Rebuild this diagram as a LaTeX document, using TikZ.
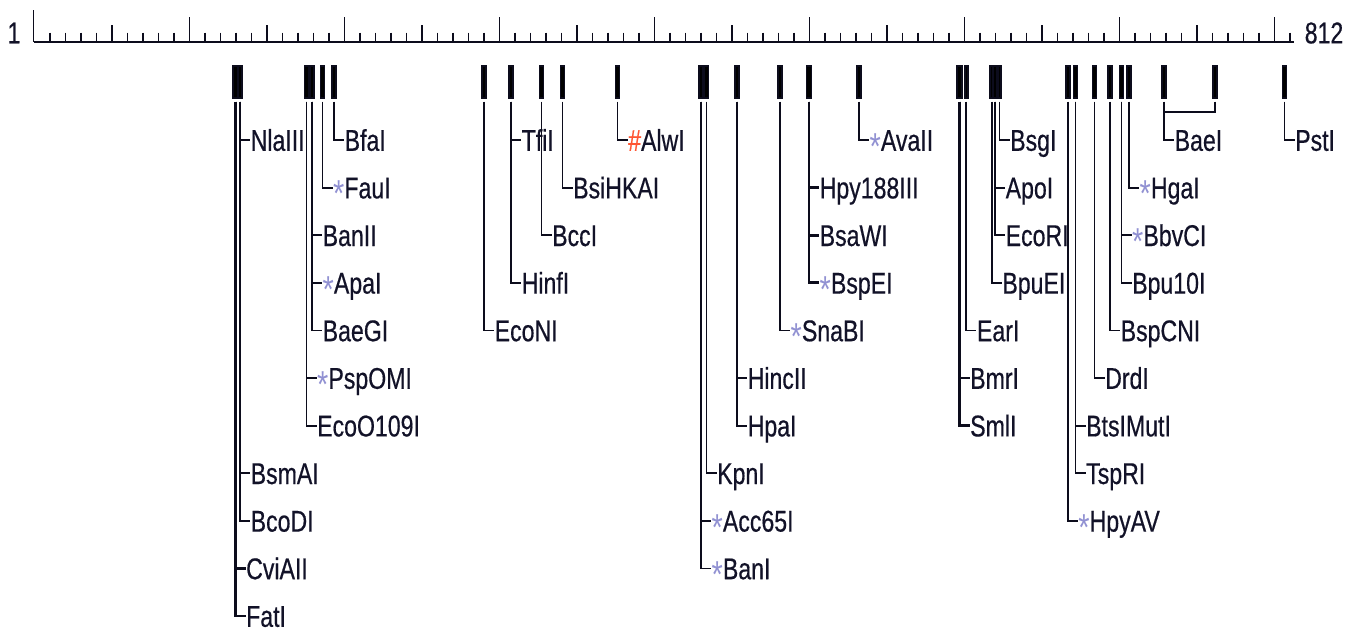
\documentclass[tikz,border=0pt]{standalone}
\usepackage{graphicx}
\usepackage{fontspec}
\setmainfont{Liberation Sans}[FakeStretch=0.77,FakeBold=0.5]
\newfontfamily\markfont{Liberation Sans}[FakeStretch=0.77]
\definecolor{ink}{RGB}{18,18,40}
\definecolor{wire}{RGB}{12,12,28}
\definecolor{starc}{RGB}{145,145,210}
\definecolor{hashc}{RGB}{255,85,50}
% markers in front of enzyme names
\newcommand{\cutstar}{{\markfont\color{starc}\raisebox{-0.28em}{\scalebox{1.25}{*}}}}
\newcommand{\cuthash}{{\color{hashc}\#}}
\tikzset{
  wire/.style={draw=wire, line width=1.8pt},
  heavy/.style={line width=2.7pt},
  tickline/.style={draw=wire, line width=1.3pt},
  lab/.style={anchor=west, inner xsep=0.5pt, inner ysep=0pt,
    text height=21.6pt, text depth=0pt, text=ink,
    font=\fontsize{30}{30}\selectfont},
  num/.style={inner sep=0pt, text=ink, font=\fontsize{30}{30}\selectfont},
}
% a cut site: its bar and the top of its leader line
\newcommand{\cutsite}[3]{%
  \fill[wire] (#2-#3/2,66) rectangle (#2+#3/2,98);
  \coordinate (#1) at (#2,101.5);}
% an enzyme label hung from a cut site on a given row
\newcommand{\enzyme}[5][]{%
  \node[lab,xshift=10pt] (#4) at (#2 |- #3) {#5};
  \draw[wire,#1] (#2) |- (#4.west);}
\begin{document}
\begin{tikzpicture}[x=1pt,y=-1pt]
\useasboundingbox (0,0) rectangle (1349,632);

% ruler
\coordinate (rbeg) at (33.5,41.5);
\coordinate (rend) at (1294,41.5);
\draw[wire, line width=2pt] (rbeg) -- (rend);
\draw[tickline] (33.5,10) -- (rbeg);
\foreach \b in {10,20,...,810}
  \draw[tickline] (34.6+1.55*\b,32.5) -- (34.6+1.55*\b,41.5);
\foreach \b in {50,150,...,750}
  \draw[tickline] (34.6+1.55*\b,25) -- (34.6+1.55*\b,41.5);
\foreach \b in {100,200,...,800}
  \draw[tickline] (34.6+1.55*\b,17) -- (34.6+1.55*\b,41.5);
\node[num] (first) at (14,33) {1};
\node[num] (last) at (1324,33) {812};

% label rows
\foreach \k in {1,...,11}
  \coordinate (r\k) at (0,140+47.6*\k-47.6);

% cut sites
\cutsite{sA2}{235.5}{5}
\cutsite{sA1}{240}{4.5}
\cutsite{sB1}{306.5}{4}
\cutsite{sB2}{312}{4}
\cutsite{sB3}{322.5}{4}
\cutsite{sB4}{334}{4}
\cutsite{sC1}{484}{4}
\cutsite{sC2}{511}{4}
\cutsite{sC3}{541.5}{4}
\cutsite{sC4}{562.5}{4}
\cutsite{sC5}{617.5}{4}
\cutsite{sC6}{701}{4}
\cutsite{sC7}{706.5}{4}
\cutsite{sC8}{737}{4}
\cutsite{sC9}{780}{4}
\cutsite{sC10}{809}{5}
\cutsite{sC11}{859}{4}
\cutsite{sD1}{959.5}{5.5}
\cutsite{sD2}{966.3}{3}
\cutsite{sD3}{991.7}{4}
\cutsite{sD4}{995}{4}
\cutsite{sD5}{999.5}{3}
\cutsite{sD6}{1067.7}{4}
\cutsite{sD7}{1075.5}{4}
\cutsite{sD8}{1094.5}{4}
\cutsite{sD9}{1110}{4}
\cutsite{sD10}{1121.5}{4}
\cutsite{sD11}{1129}{4}
\cutsite{sD12}{1164}{4}
\cutsite{sD13}{1215}{4}
\cutsite{sD14}{1284.5}{4}

% enzyme labels
\enzyme{sA1}{r1}{NlaIII}{NlaIII}
\enzyme{sA1}{r8}{BsmAI}{BsmAI}
\enzyme{sA1}{r9}{BcoDI}{BcoDI}
\enzyme[heavy]{sA2}{r10}{CviAII}{CviAII}
\enzyme[heavy]{sA2}{r11}{FatI}{FatI}

\enzyme{sB4}{r1}{BfaI}{BfaI}
\enzyme{sB3}{r2}{FauI}{\cutstar FauI}
\enzyme{sB2}{r3}{BanII}{BanII}
\enzyme{sB2}{r4}{ApaI}{\cutstar ApaI}
\enzyme{sB2}{r5}{BaeGI}{BaeGI}
\enzyme{sB1}{r6}{PspOMI}{\cutstar PspOMI}
\enzyme{sB1}{r7}{EcoOI}{EcoO109I}

\enzyme{sC2}{r1}{TfiI}{TfiI}
\enzyme{sC2}{r4}{HinfI}{HinfI}
\enzyme{sC4}{r2}{BsiHKAI}{BsiHKAI}
\enzyme{sC3}{r3}{BccI}{BccI}
\enzyme{sC1}{r5}{EcoNI}{EcoNI}
\enzyme{sC5}{r1}{AlwI}{\cuthash AlwI}
\enzyme{sC11}{r1}{AvaII}{\cutstar AvaII}
\enzyme[heavy]{sC10}{r2}{HpyIII}{Hpy188III}
\enzyme[heavy]{sC10}{r3}{BsaWI}{BsaWI}
\enzyme[heavy]{sC10}{r4}{BspEI}{\cutstar BspEI}
\enzyme{sC9}{r5}{SnaBI}{\cutstar SnaBI}
\enzyme{sC8}{r6}{HincII}{HincII}
\enzyme{sC8}{r7}{HpaI}{HpaI}
\enzyme{sC7}{r8}{KpnI}{KpnI}
\enzyme{sC6}{r9}{AccI}{\cutstar Acc65I}
\enzyme{sC6}{r10}{BanI}{\cutstar BanI}

\enzyme{sD5}{r1}{BsgI}{BsgI}
\enzyme{sD4}{r2}{ApoI}{ApoI}
\enzyme{sD4}{r3}{EcoRI}{EcoRI}
\enzyme{sD3}{r4}{BpuEI}{BpuEI}
\enzyme{sD2}{r5}{EarI}{EarI}
\enzyme[heavy]{sD1}{r6}{BmrI}{BmrI}
\enzyme[heavy]{sD1}{r7}{SmlI}{SmlI}
\enzyme{sD6}{r9}{HpyAV}{\cutstar HpyAV}
\enzyme{sD7}{r7}{BtsIMutI}{BtsIMutI}
\enzyme{sD7}{r8}{TspRI}{TspRI}
\enzyme{sD8}{r6}{DrdI}{DrdI}
\enzyme{sD9}{r5}{BspCNI}{BspCNI}
\enzyme{sD10}{r3}{BbvCI}{\cutstar BbvCI}
\enzyme{sD10}{r4}{BpuI}{Bpu10I}
\enzyme{sD11}{r2}{HgaI}{\cutstar HgaI}
\enzyme{sD12}{r1}{BaeI}{BaeI}
\enzyme{sD14}{r1}{PstI}{PstI}

% BaeI cuts on both sides: join the second site to the first
\coordinate (baejoin) at (1164,112);
\draw[wire] (sD13) |- (baejoin);
\end{tikzpicture}
\end{document}
